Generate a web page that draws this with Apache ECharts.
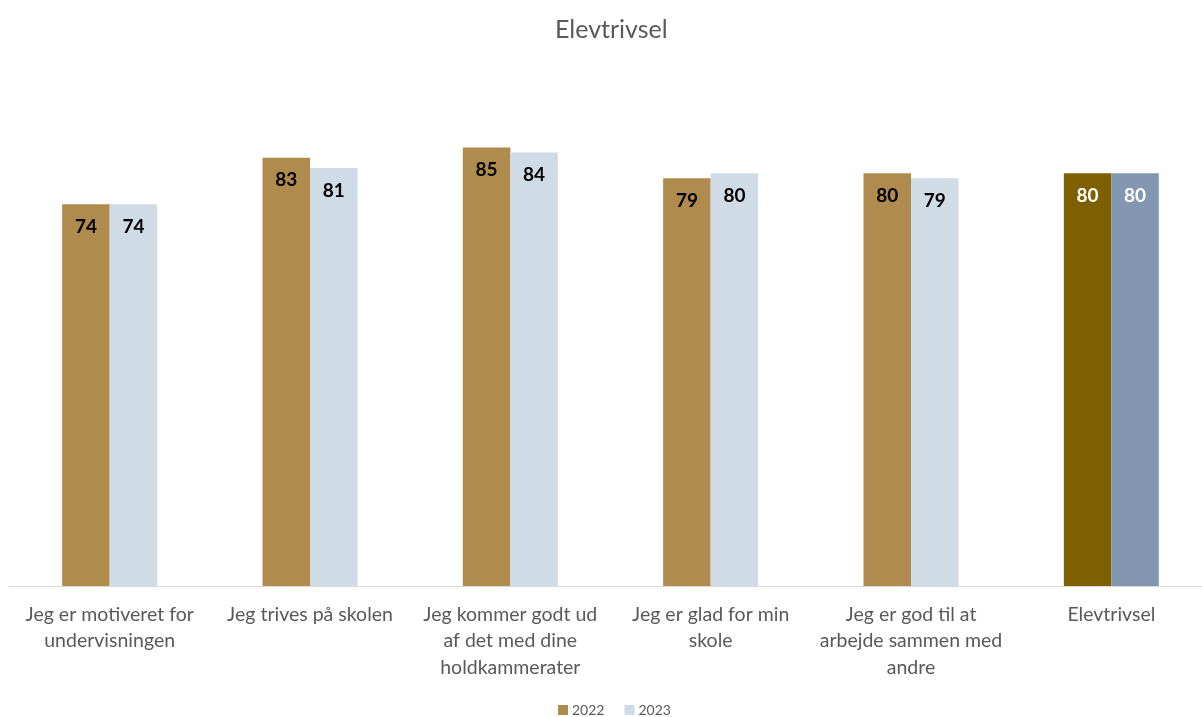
<!DOCTYPE html>
<html><head><meta charset="utf-8">
<script src="https://cdn.jsdelivr.net/npm/echarts@6/dist/echarts.min.js"></script>
<style>html,body{margin:0;padding:0;background:#fff}#c{width:1202px;height:717px}</style>
</head><body><div id="c"></div>
<script>
const titleText = "Elevtrivsel";
const categories = [
  "Jeg er motiveret for\nundervisningen",
  "Jeg trives på skolen",
  "Jeg kommer godt ud\naf det med dine\nholdkammerater",
  "Jeg er glad for min\nskole",
  "Jeg er god til at\narbejde sammen med\nandre",
  "Elevtrivsel"
];
const seriesNames = ["2022", "2023"];
const values2022 = [74, 83, 85, 79, 80, 80];
const values2023 = [74, 81, 84, 80, 79, 80];

const col2022 = "#AF8B4E", col2023 = "#CFDBE5";
const hi2022 = "#7F6000", hi2023 = "#8497B0";
const FONT = "Lato, 'Open Sans', sans-serif";

function build(vals, base, hi) {
  return vals.map((v, i) => {
    const last = i === vals.length - 1;
    return {
      value: v,
      itemStyle: { color: last ? hi : base },
      label: { color: last ? "#ffffff" : "#000000" }
    };
  });
}

const chart = echarts.init(document.getElementById('c'), null, { renderer: 'canvas' });
chart.setOption({
  animation: false,
  backgroundColor: "#ffffff",
  title: {
    text: titleText, left: 555, top: 17, padding: 0,
    textStyle: { fontFamily: FONT, fontSize: 25, fontWeight: "normal", color: "#595959" }
  },
  legend: {
    bottom: 0, left: 558, padding: 0,
    itemWidth: 10, itemHeight: 10, itemGap: 20,
    icon: "rect",
    textStyle: { fontFamily: FONT, fontSize: 14, color: "#595959", padding: [0, 0, 0, -1] },
    data: seriesNames
  },
  grid: { left: 9.5, width: 1202, top: 70, bottom: 131, outerBoundsMode: "none", containLabel: false },
  xAxis: {
    type: "category", data: categories,
    axisLine: { lineStyle: { color: "#D9D9D9", width: 1 } },
    axisTick: { show: false },
    axisLabel: {
      fontFamily: FONT, fontSize: 19.5, color: "#595959",
      lineHeight: 26.5, margin: 15, interval: 0
    }
  },
  yAxis: {
    type: "value", min: 0, max: 100,
    show: false, splitLine: { show: false }
  },
  series: [
    {
      name: seriesNames[0], type: "bar", barWidth: 47.5, barGap: "0%",
      itemStyle: { color: col2022 },
      label: { show: true, position: "insideTop", distance: 13,
        fontFamily: FONT, fontSize: 19, fontWeight: "bold" },
      data: build(values2022, col2022, hi2022)
    },
    {
      name: seriesNames[1], type: "bar", barWidth: 47.5, barGap: "0%",
      itemStyle: { color: col2023 },
      label: { show: true, position: "insideTop", distance: 13,
        fontFamily: FONT, fontSize: 19, fontWeight: "bold" },
      data: build(values2023, col2023, hi2023)
    }
  ]
});
</script></body></html>
